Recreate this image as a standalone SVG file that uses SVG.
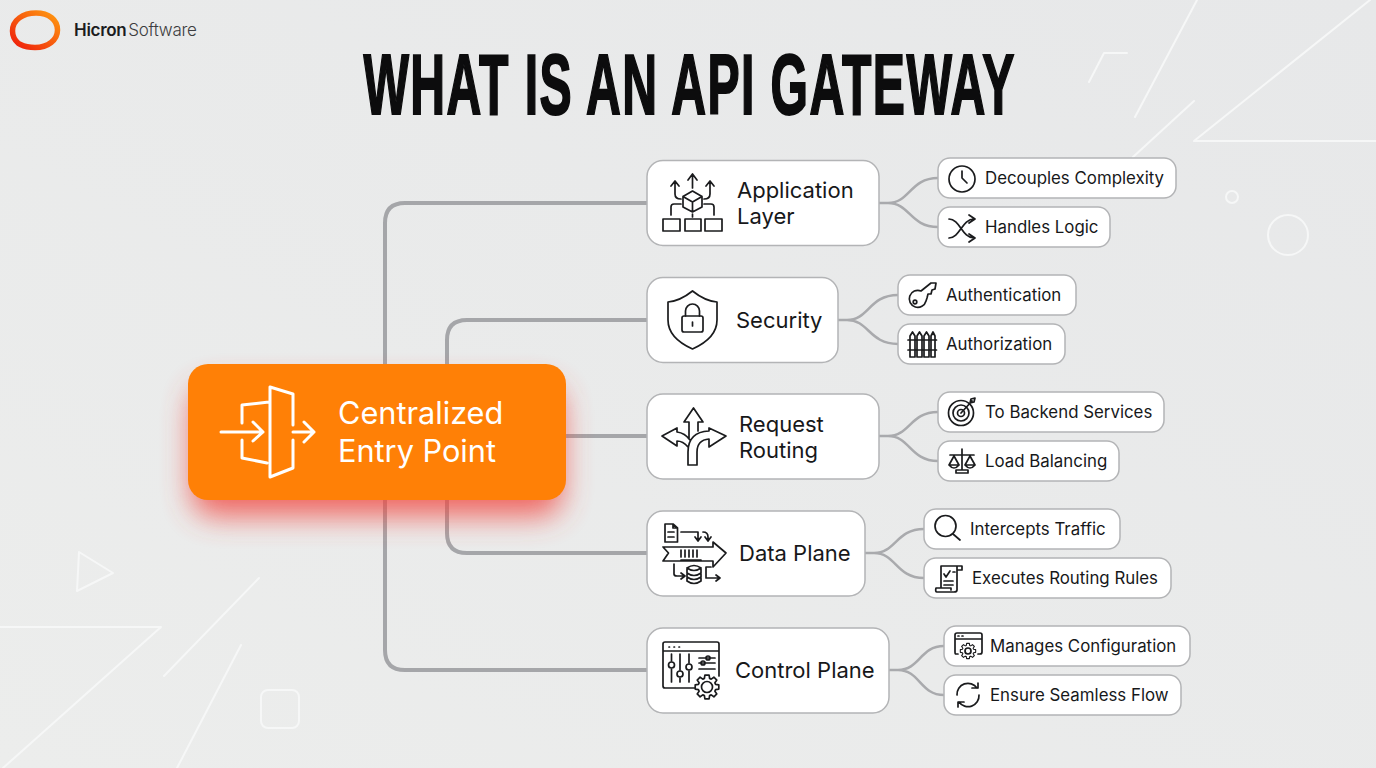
<svg xmlns="http://www.w3.org/2000/svg" width="1376" height="768" viewBox="0 0 1376 768">
<style>
.t{font-family:Inter,"Liberation Sans",sans-serif;fill:#17181a}
.n{font-size:22px;font-weight:400}
.c{font-size:16.85px;font-weight:400}
.node{fill:#fff;stroke:#b3b4b6;stroke-width:1.5}
.chip{fill:#fff;stroke:#b3b4b6;stroke-width:1.5}
.i{fill:none;stroke:#1a1b1d;stroke-width:1.7;stroke-linecap:round;stroke-linejoin:round}
.w{fill:none;stroke:#fff;stroke-width:3;stroke-linecap:round;stroke-linejoin:round}
.d{fill:none;stroke:#f6f7f7;stroke-width:2;stroke-linecap:round;stroke-linejoin:round}
.trunk{fill:none;stroke:#a5a6a9;stroke-width:4}
.fork{fill:none;stroke:#a9aaad;stroke-width:2.5}
</style>
<defs>
<linearGradient id="bg" x1="1" y1="0" x2="0" y2="1"><stop offset="0" stop-color="#e7e8e9"/><stop offset="1" stop-color="#ecedec"/></linearGradient>
<linearGradient id="ring" x1="1" y1="0" x2="0" y2="1"><stop offset="0" stop-color="#ff9a10"/><stop offset="1" stop-color="#ee1c0c"/></linearGradient>
<filter id="glow" x="-30%" y="-50%" width="160%" height="200%"><feGaussianBlur stdDeviation="15"/></filter>
<path id="gear" d="M11.8-2.1 11.8 2.1 8.6 2.6 7.9 4.2 9.8 6.9 6.9 9.8 4.2 7.9 2.6 8.6 2.1 11.8-2.1 11.8-2.6 8.6-4.2 7.9-6.9 9.8-9.8 6.9-7.9 4.2-8.6 2.6-11.8 2.1-11.8-2.1-8.6-2.6-7.9-4.2-9.8-6.9-6.9-9.8-4.2-7.9-2.6-8.6-2.1-11.8 2.1-11.8 2.6-8.6 4.2-7.9 6.9-9.8 9.8-6.9 7.9-4.2 8.6-2.6Z"/>
</defs>
<rect width="1376" height="768" fill="url(#bg)"/>
<g id="decor">
<path class="d" d="M1197 0 1135 117M1194 101 1133 157M1370 0 1194 141H1376M1089 82 1104 53H1127"/>
<circle class="d" cx="1232" cy="197" r="6"/><circle class="d" cx="1288" cy="235" r="20"/>
<path class="d" d="M79 552 113 573 77 591ZM0 627H161L3 768M164 676 259 578M241 645 177 768"/>
<rect class="d" x="261" y="690" width="38" height="38" rx="7"/>
</g>
<g id="logo">
<path d="M36 13C49 13 57.500 20 57.500 30C57.500 40 48 47.500 35 47.500C29 47.500 24.500 46.500 20.500 44.500L18.500 43.500C15 40.500 12.500 36 12.500 31C12.500 20 23 13 36 13Z" fill="none" stroke="url(#ring)" stroke-width="5.500"/>
<text x="74" y="36" font-family="Inter,'Liberation Sans',sans-serif" font-size="17" letter-spacing="-.3"><tspan font-weight="600" fill="#1b1c1e">Hicron</tspan><tspan dx="2" font-weight="300" fill="#3c3d40">Software</tspan></text>
</g>
<text id="title" transform="translate(363.500 114) scale(.56 1)" font-family="'Liberation Sans',sans-serif" font-weight="700" font-size="86" letter-spacing="2.500" fill="#0c0c0d" stroke="#0c0c0d" stroke-width="2">WHAT IS AN API GATEWAY</text>
<g id="connectors">
<path class="trunk" d="M385 364V223Q385 203 405 203H647M447 364V340Q447 320 467 320H647M566 436H647M447 500V533Q447 553 467 553H647M385 500V650Q385 670 405 670H647"/>
<path class="fork" d="M879 203H888C910 203 910 178 938 178M888 203C910 203 910 227 938 227M838 320H847C869 320 869 295 898 295M847 320C869 320 869 344 898 344M879 436H888C910 436 910 412 938 412M888 436C910 436 910 461 938 461M865 553H874C896 553 896 529 924 529M874 553C896 553 896 578 924 578M889 670H898C920 670 920 646 944 646M898 670C920 670 920 695 944 695"/>
</g>
<g id="hub">
<rect x="192" y="386" width="370" height="130" rx="22" fill="#f2443e" opacity=".8" filter="url(#glow)"/>
<rect x="188" y="364" width="378" height="136" rx="20" fill="#ff8006"/>
<path class="w" d="M293 425V394L270 387V477L293 468V440M269 402 242 405V423M242 440V458L267 463M221 432H263M253 422 263 432 253 441M293 432H314M304 422 314 432 304 442"/>
<text x="338" y="424" font-family="Inter,'Liberation Sans',sans-serif" font-size="30.700" fill="#fff">Centralized</text>
<text x="338" y="462" font-family="Inter,'Liberation Sans',sans-serif" font-size="30.700" fill="#fff">Entry Point</text>
</g>
<g id="node-application">
<rect class="node" x="647" y="160.500" width="232" height="85" rx="16"/>
<path class="i" d="M692.500 191 702 196.500V207L692.500 212 683 207V196.500ZM683 196.500 692.500 202 702 196.500M692.500 202V212M692.500 188V175M688 180 692.500 174 697 180M681 199Q675 199 675 194V181M671 186 675 181 679 186M704 199Q710 199 710 194V181M706 186 710 181 714 186M681 204H674Q671 204 671 207V215M704 204H711Q714 204 714 207V215M692.500 214V217"/>
<rect class="i" x="663" y="219" width="17" height="12"/><rect class="i" x="685" y="219" width="16" height="12"/><rect class="i" x="705" y="219" width="17" height="12"/>
<text class="t n" x="737" y="198">Application</text><text class="t n" x="737" y="224">Layer</text>
</g>
<g id="chip-decouples"><rect class="chip" x="938" y="158" width="238" height="40" rx="12"/><circle class="i" cx="962" cy="179" r="13"/><path class="i" d="M962 171V178L967 183"/><text class="t c" x="985" y="184">Decouples Complexity</text></g>
<g id="chip-logic"><rect class="chip" x="938" y="207" width="172" height="40" rx="12"/><path class="i" d="M949 219C960 219 962 238 974 238M949 238C960 238 962 219 974 219M969 215 975 219 969 223M969 234 975 238 969 242"/><text class="t c" x="985" y="233">Handles Logic</text></g>
<g id="node-security">
<rect class="node" x="647" y="277.500" width="191" height="85" rx="16"/>
<path class="i" d="M692.500 291Q680 301 668 302V320Q668 338 692.500 349 717 338 717 320V302Q705 301 692.500 291Z"/>
<rect class="i" x="682" y="316" width="21" height="16" rx="2"/><path class="i" d="M685.500 316V311A7 7 0 0 1 699.500 311V316M692.500 322V326"/>
<text class="t n" x="736" y="328">Security</text>
</g>
<g id="chip-authn"><rect class="chip" x="898" y="275" width="178" height="40" rx="12"/><path class="i" d="M921 291 931 283 936 283 935 289 932 290 931 294 928 294 927 298 926 301A8.500 8.500 0 1 1 921 291Z"/><circle class="i" cx="915" cy="302" r="1.800"/><text class="t c" x="946" y="301">Authentication</text></g>
<g id="chip-authz"><rect class="chip" x="898" y="324" width="167" height="40" rx="12"/><path class="i" d="M910 336 912.500 332 915 336V357H910ZM917 336 919.500 332 922 336V357H917ZM924 336 926.500 332 929 336V357H924ZM931 336 933 332 935 336V357H931ZM908 340H936.500M908 350H936.500"/><text class="t c" x="946" y="350">Authorization</text></g>
<g id="node-routing">
<rect class="node" x="647" y="394" width="232" height="85" rx="16"/>
<path class="i" d="M689 438V422H684L693.500 408 703 422H698V431M688 465H697V452Q697 440 709 439V447L726 436 709 428V431Q688 432 688 452ZM688 447Q683 441 677 441V446L662 436 677 428V432Q685 433 690 440"/>
<text class="t n" x="739" y="432">Request</text><text class="t n" x="739" y="458">Routing</text>
</g>
<g id="chip-backend"><rect class="chip" x="938" y="392" width="226" height="40" rx="12"/><circle class="i" cx="961" cy="413" r="12.500"/><circle class="i" cx="961" cy="413" r="8"/><circle class="i" cx="961" cy="413" r="3.500"/><path class="i" d="M961 413 972 401M970 403 971 399 975 398 974 402 970 403"/><text class="t c" x="985" y="418">To Backend Services</text></g>
<g id="chip-balance"><rect class="chip" x="938" y="441" width="181" height="40" rx="12"/><path class="i" d="M962 449V469M950 455H974M954 456 949 465H959ZM970 456 965 465H975ZM949 465Q954 471 959 465M965 465Q970 471 975 465M956 473H968V470H956Z"/><text class="t c" x="985" y="467">Load Balancing</text></g>
<g id="node-data">
<rect class="node" x="647" y="511" width="218" height="85" rx="16"/>
<path class="i" d="M665 524H673L677.500 528V542H665ZM673 524V528H677.500M668 532H674M668 537H674M681 532H698V540M695 537 698 541 701 537M703 532Q708 532 708 537V541M705 537 708 541 711 537M663 547H713V542L726 553 713 567V561H663L668.500 553ZM681 550V557M685 550V557M689 550V557M693 550V557M697 550V557M681 560H701M674 564V574Q674 576 677 576H684M681 573 685 576 681 579M711 567 706 567V578H719M716 575 720 578 716 581"/>
<path class="i" d="M687 568Q694 563 701 568V581Q694 586 687 581ZM687 568Q694 573 701 568M687 573Q694 578 701 573M687 577Q694 582 701 577"/>
<text class="t n" x="739" y="561">Data Plane</text>
</g>
<g id="chip-intercepts"><rect class="chip" x="924" y="509" width="196" height="40" rx="12"/><circle class="i" cx="945.500" cy="526" r="10.500"/><path class="i" d="M953 534 960 540" stroke-width="3"/><text class="t c" x="970" y="535">Intercepts Traffic</text></g>
<g id="chip-rules"><rect class="chip" x="924" y="558" width="247" height="40" rx="12"/><path class="i" d="M941 566H962V570H957V590Q957 592 954 592H937Q935 592 936 588H951V590M941 566V587M957 566V570M944 574 946 577 950 571M953 572H955M944 581H953M944 585H953"/><text class="t c" x="972" y="584">Executes Routing Rules</text></g>
<g id="node-control">
<rect class="node" x="647" y="628" width="242" height="85" rx="16"/>
<path class="i" d="M696 688H665Q663 688 663 686V644Q663 642 665 642H717Q719 642 719 644V676M663 651H719M671.500 654V661M671.500 669V682M680 654V670M680 678V682M689 654V663M689 671V682M699 658H715M699 663H715M699 669H715"/>
<path class="i" d="M669 647H669.500M674 647H674.500M679 647H679.500"/>
<circle class="i" cx="671.500" cy="665" r="3"/><circle class="i" cx="680" cy="674" r="3"/><circle class="i" cx="689" cy="667" r="3"/><circle class="i" cx="708" cy="658" r="2"/><circle class="i" cx="703" cy="663" r="2"/>
<use href="#gear" x="707" y="687" class="i" style="fill:#fff"/><circle class="i" cx="707" cy="687" r="5.500"/>
<text class="t n" x="735" y="678">Control Plane</text>
</g>
<g id="chip-config"><rect class="chip" x="944" y="626" width="246" height="40" rx="12"/><path class="i" d="M958 654H956Q955 654 955 652V635Q955 633 957 633H980Q982 633 982 635V652Q982 654 980 654H978M955 639H982M958 636H959M962 636H963"/><use href="#gear" transform="translate(968 651) scale(.65)" class="i" style="fill:#fff"/><circle class="i" cx="968" cy="651" r="3"/><text class="t c" x="990" y="652">Manages Configuration</text></g>
<g id="chip-flow"><rect class="chip" x="944" y="675" width="237" height="40" rx="12"/><path class="i" d="M957 695A11 11 0 0 1 977 688M972 688H978V683M979 695A11 11 0 0 1 959 702M964 702H958V707"/><text class="t c" x="990" y="701">Ensure Seamless Flow</text></g>
</svg>
